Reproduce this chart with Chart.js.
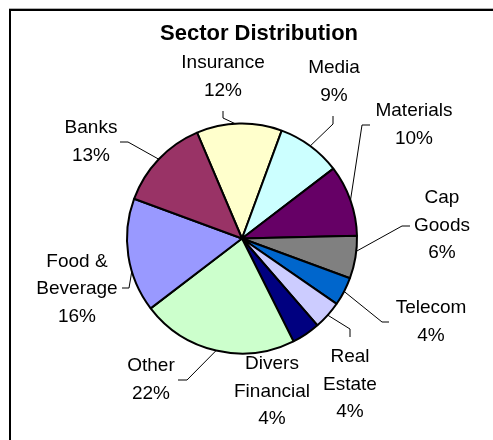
<!DOCTYPE html>
<html>
<head>
<meta charset="utf-8">
<script src="https://cdn.jsdelivr.net/npm/chart.js@4/dist/chart.umd.min.js"></script>
<style>
  html, body { margin: 0; padding: 0; background: #fff; }
  #wrap { position: relative; width: 493px; height: 440px; }
</style>
</head>
<body>
<div id="wrap"><canvas id="chart"></canvas></div>
<script>
const title = "Sector Distribution";
const sectors = ["Insurance", "Media", "Materials", "Cap Goods", "Telecom",
  "Real Estate", "Divers Financial", "Other", "Food & Beverage", "Banks"];
const shares = [12, 9, 10, 6, 4, 4, 4, 22, 16, 13];
const colors = ["#FFFFCC", "#CCFFFF", "#660066", "#808080", "#0066CC",
  "#CCCCFF", "#000080", "#CCFFCC", "#9999FF", "#993366"];

// label placement, relative to the pie centre (Excel moved these by hand)
// at: centre x / first baseline; wrap: split at last space; tick: leader end + elbow; aim: degrees nudge
const labelLayout = [
  { at: [-19, -170.5], tick: [[-19, -127.5], [-19, -120.5]], aim: -2 },
  { at: [92, -165.5], tick: [[91, -122.5], [91, -114.5]] },
  { at: [172, -122.5], tick: [[128, -113.5], [120, -113.5]] },
  { at: [200, -35.5], wrap: true, tick: [[168, -12.5], [160, -12.5]], aim: -3 },
  { at: [189, 74.5], tick: [[147, 83.5], [140, 83.5]] },
  { at: [108, 123.5], wrap: true, tick: [[108, 98.5], [108, 90.5]] },
  { at: [30, 130.5], wrap: true },
  { at: [-91, 132.5], tick: [[-64, 141.5], [-55, 141.5]] },
  { at: [-165, 28], wrap: true, tick: [[-120, 49.5], [-113, 49.5]], aim: -8 },
  { at: [-151, -105.5], tick: [[-122, -96.5], [-114, -96.5]] },
];

function splitLabel(name, wrap) {
  if (!wrap) return [name];
  const i = name.lastIndexOf(" ");
  return [name.slice(0, i), name.slice(i + 1)];
}

const decorations = {
  id: "decorations",
  beforeDraw(chart) {
    const ctx = chart.ctx;
    ctx.save();
    ctx.fillStyle = "#fff";
    ctx.fillRect(0, 0, chart.width, chart.height);
    // frame
    ctx.fillStyle = "#b0b0b0";
    ctx.fillRect(9, 8, chart.width, 1);
    ctx.fillStyle = "#000";
    ctx.fillRect(9, 9, chart.width, 2);
    ctx.fillRect(9, 9, 2, chart.height);
    ctx.restore();
  },
  afterDraw(chart) {
    const ctx = chart.ctx;
    const arcs = chart.getDatasetMeta(0).data;
    ctx.save();
    ctx.fillStyle = "#000";
    ctx.textAlign = "center";
    ctx.textBaseline = "alphabetic";
    ctx.font = "bold 22px 'Liberation Sans', Arial, sans-serif";
    const cx = arcs[0].x, cy = arcs[0].y;
    ctx.fillText(title, cx + 17, 40);

    ctx.font = "19px 'Liberation Sans', Arial, sans-serif";
    ctx.strokeStyle = "#000";
    ctx.lineWidth = 1;
    arcs.forEach((arc, i) => {
      const lay = labelLayout[i];
      const lines = splitLabel(sectors[i], lay.wrap).concat([shares[i] + "%"]);
      lines.forEach((t, k) => {
        ctx.fillText(t, cx + lay.at[0], cy + lay.at[1] + k * 27.5);
      });
      if (lay.tick) {
        const mid = (arc.startAngle + arc.endAngle) / 2 + (lay.aim || 0) * Math.PI / 180;
        const r = arc.outerRadius;
        ctx.beginPath();
        ctx.moveTo(cx + lay.tick[0][0], cy + lay.tick[0][1]);
        ctx.lineTo(cx + lay.tick[1][0], cy + lay.tick[1][1]);
        ctx.lineTo(cx + r * Math.cos(mid), cy + r * Math.sin(mid));
        ctx.stroke();
      }
    });
    ctx.restore();
  },
};

new Chart("chart", {
  type: "pie",
  data: {
    labels: sectors,
    datasets: [{
      data: shares,
      backgroundColor: colors,
      borderColor: "#000",
      borderWidth: 2,
    }],
  },
  options: {
    responsive: true,
    maintainAspectRatio: false,
    animation: false,
    rotation: -23,
    radius: 115,
    layout: { padding: { left: 0, right: 9, top: 37, bottom: 0 } },
    plugins: {
      legend: { display: false },
      tooltip: { enabled: false },
      title: { display: false },
    },
  },
  plugins: [decorations],
});
</script>
</body>
</html>
